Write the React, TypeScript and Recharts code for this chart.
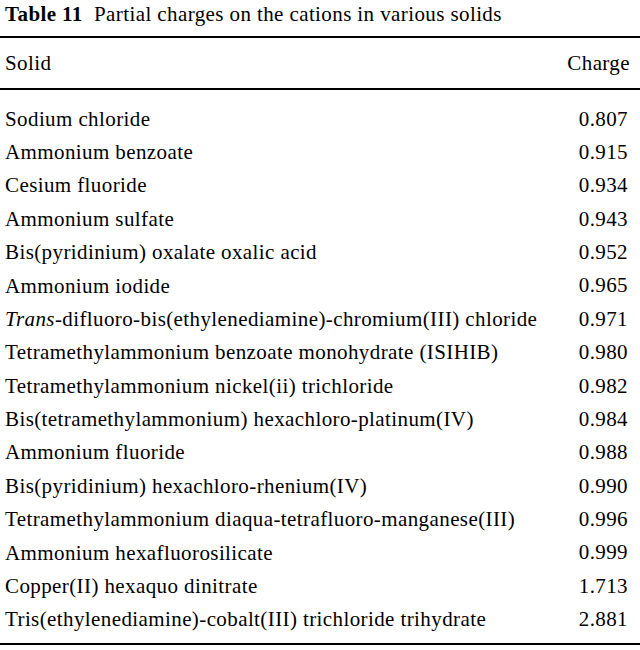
import React from 'react';
import { BarChart, Bar, XAxis, YAxis, LabelList } from 'recharts';

const solids = [
  'Sodium chloride',
  'Ammonium benzoate',
  'Cesium fluoride',
  'Ammonium sulfate',
  'Bis(pyridinium) oxalate oxalic acid',
  'Ammonium iodide',
  'Trans-difluoro-bis(ethylenediamine)-chromium(III) chloride',
  'Tetramethylammonium benzoate monohydrate (ISIHIB)',
  'Tetramethylammonium nickel(ii) trichloride',
  'Bis(tetramethylammonium) hexachloro-platinum(IV)',
  'Ammonium fluoride',
  'Bis(pyridinium) hexachloro-rhenium(IV)',
  'Tetramethylammonium diaqua-tetrafluoro-manganese(III)',
  'Ammonium hexafluorosilicate',
  'Copper(II) hexaquo dinitrate',
  'Tris(ethylenediamine)-cobalt(III) trichloride trihydrate',
];

const charges = [
  0.807, 0.915, 0.934, 0.943, 0.952, 0.965, 0.971, 0.98, 0.982, 0.984, 0.988, 0.99,
  0.996, 0.999, 1.713, 2.881,
];

const data = solids.map((name, i) => ({ name, charge: charges[i] }));

const FONT = '"Liberation Serif", "Times New Roman", serif';
const SIZE = 21;
const SPACING = 0.4;

const NameTick = (props: any) => {
  const { y, payload } = props;
  const v: string = payload.value;
  const italic = v.startsWith('Trans-');
  return (
    <text
      x={5}
      y={y}
      dy={7}
      textAnchor="start"
      fontFamily={FONT}
      fontSize={SIZE}
      letterSpacing={SPACING}
      fill="#000"
    >
      {italic ? (
        <>
          <tspan fontStyle="italic">Trans</tspan>
          <tspan>{v.slice(5)}</tspan>
        </>
      ) : (
        v
      )}
    </text>
  );
};

const ChargeLabel = (props: any) => {
  const { y, height, value } = props;
  return (
    <text
      x={628}
      y={y + height / 2}
      dy={7}
      textAnchor="end"
      fontFamily={FONT}
      fontSize={SIZE}
      letterSpacing={SPACING}
      fill="#000"
    >
      {Number(value).toFixed(3)}
    </text>
  );
};

const rule = (top: number) => (
  <div style={{ position: 'absolute', left: 0, top, width: 640, height: 1.5, background: '#000' }} />
);

export default function App() {
  return (
    <div
      style={{
        position: 'absolute',
        left: 0,
        top: 0,
        width: 640,
        height: 650,
        background: '#fff',
        fontFamily: FONT,
        fontSize: SIZE,
        letterSpacing: SPACING,
        color: '#000',
      }}
    >
      <div style={{ position: 'absolute', left: 5, top: 2 }}>
        <b>Table 11</b>&nbsp;&nbsp;Partial charges on the cations in various solids
      </div>
      {rule(36)}
      <div style={{ position: 'absolute', left: 5, top: 51 }}>Solid</div>
      <div style={{ position: 'absolute', right: 10, top: 51 }}>Charge</div>
      {rule(88)}
      <div style={{ position: 'absolute', left: 0, top: 102 }}>
        <BarChart
          width={640}
          height={534}
          data={data}
          layout="vertical"
          margin={{ top: 0, right: 0, bottom: 0, left: 0 }}
          barCategoryGap={0}
        >
          <XAxis type="number" domain={[0, 3]} hide />
          <YAxis
            type="category"
            dataKey="name"
            width={560}
            axisLine={false}
            tickLine={false}
            interval={0}
            tick={<NameTick />}
          />
          <Bar dataKey="charge" fill="transparent" isAnimationActive={false}>
            <LabelList dataKey="charge" content={<ChargeLabel />} />
          </Bar>
        </BarChart>
      </div>
      {rule(643)}
    </div>
  );
}
